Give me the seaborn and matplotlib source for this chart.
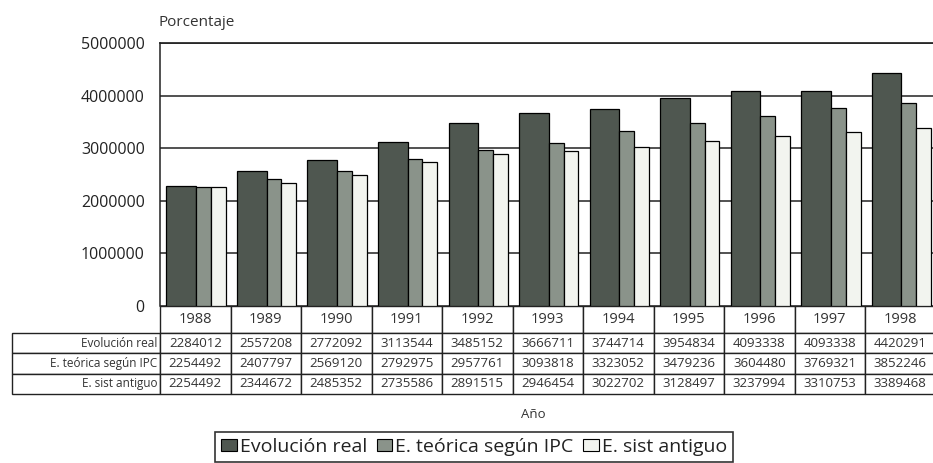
import matplotlib
matplotlib.use("Agg")
import matplotlib.pyplot as plt
import seaborn as sns
import pandas as pd

anios = ["1988", "1989", "1990", "1991", "1992", "1993", "1994", "1995", "1996", "1997", "1998"]
series = ["Evolución real", "E. teórica según IPC", "E. sist antiguo"]
evolucion_real = [2284012, 2557208, 2772092, 3113544, 3485152, 3666711, 3744714, 3954834, 4093338, 4093338, 4420291]
teorica_ipc = [2254492, 2407797, 2569120, 2792975, 2957761, 3093818, 3323052, 3479236, 3604480, 3769321, 3852246]
sist_antiguo = [2254492, 2344672, 2485352, 2735586, 2891515, 2946454, 3022702, 3128497, 3237994, 3310753, 3389468]
yticks = [0, 1000000, 2000000, 3000000, 4000000, 5000000]

colores = ["#4f5750", "#8a938a", "#f2f4ef"]

sns.set_theme(style="white")
plt.rcParams["font.family"] = ["Open Sans", "DejaVu Sans"]

# Formato largo para seaborn
valores = [evolucion_real, teorica_ipc, sist_antiguo]
filas = []
for nombre, vals in zip(series, valores):
    for a, v in zip(anios, vals):
        filas.append({"Año": a, "Valor": v, "Serie": nombre})
df = pd.DataFrame(filas)

W, H = 933, 463
AW, AH = 776, 263
fig = plt.figure(figsize=(W / 100, H / 100), dpi=100)
ax = fig.add_axes([160 / W, 1 - 306 / H, AW / W, AH / H])

sns.barplot(data=df, x="Año", y="Valor", hue="Serie", hue_order=series,
            palette=colores, edgecolor="black", linewidth=0.9,
            saturation=1, ax=ax, legend=False)

# Ancho de cada barra dentro del grupo (la real es mas ancha)
desplaz = [(-0.41, 0.42), (0.01, 0.21), (0.22, 0.21)]
for cont, (x0, w) in zip(ax.containers, desplaz):
    for i, barra in enumerate(cont):
        barra.set_x(i + x0)
        barra.set_width(w)

ax.set_xlim(-0.5, len(anios) - 0.5)
ax.set_ylim(0, 5000000)
ax.set_yticks(yticks)
ax.set_yticklabels([str(t) for t in yticks], fontsize=11.5, color="#222222")
ax.tick_params(axis="y", length=0, pad=11)
ax.set_xticks([])
ax.set_xlabel("")
ax.set_ylabel("")
ax.set_axisbelow(True)
ax.yaxis.grid(True, color="#222222", linewidth=1.1)
for lado in ["right", "bottom"]:
    ax.spines[lado].set_visible(False)
ax.spines["top"].set_color("#222222")
ax.spines["left"].set_color("#222222")
ax.spines["left"].set_linewidth(1.1)

# Tabla de datos bajo el grafico (primera columna = nombre de la serie)
celdas = [[nombre] + [str(v) for v in vals] for nombre, vals in zip(series, valores)]
anchos = [148 / AW] + [70.5 / AW] * len(anios)
tabla = ax.table(cellText=celdas, colLabels=[""] + anios, colWidths=anchos,
                 cellLoc="center", colLoc="center",
                 bbox=[(12 - 160) / AW, -88 / AH, 923.5 / AW, 88 / AH])
tabla.auto_set_font_size(False)
for (r, c), celda in tabla.get_celld().items():
    celda.set_edgecolor("#222222")
    celda.set_linewidth(1)
    celda.set_height(27 if r == 0 else 20.3)
    if r == 0:
        celda.get_text().set_fontsize(10.5)
        if c == 0:
            celda.visible_edges = ""
    elif c == 0:
        celda.get_text().set_fontsize(8.5)
        celda.get_text().set_horizontalalignment("right")
        celda.PAD = 0.02
    else:
        celda.get_text().set_fontsize(9.5)
    celda.get_text().set_color("#333333")

fig.text(158 / W, 1 - 23 / H, "Porcentaje", fontsize=11, va="center", ha="left", color="#333333")
fig.text(533 / W, 1 - 415 / H, "Año", fontsize=9.5, va="center", ha="center", color="#333333")

handles = [plt.Rectangle((0, 0), 1, 1, facecolor=c, edgecolor="black", linewidth=0.8) for c in colores]
leg = fig.legend(handles, series, loc="upper center", bbox_to_anchor=(474 / W, 1 - 432 / H),
                 ncol=3, fontsize=14, handlelength=0.8, handleheight=0.6, handletextpad=0.15,
                 columnspacing=0.5, borderpad=0.3, borderaxespad=0, fancybox=False, frameon=True)
leg.get_frame().set_edgecolor("black")
leg.get_frame().set_linewidth(1.2)
for t in leg.get_texts():
    t.set_color("#222222")

fig.savefig("out.png", dpi=100, facecolor="white")
